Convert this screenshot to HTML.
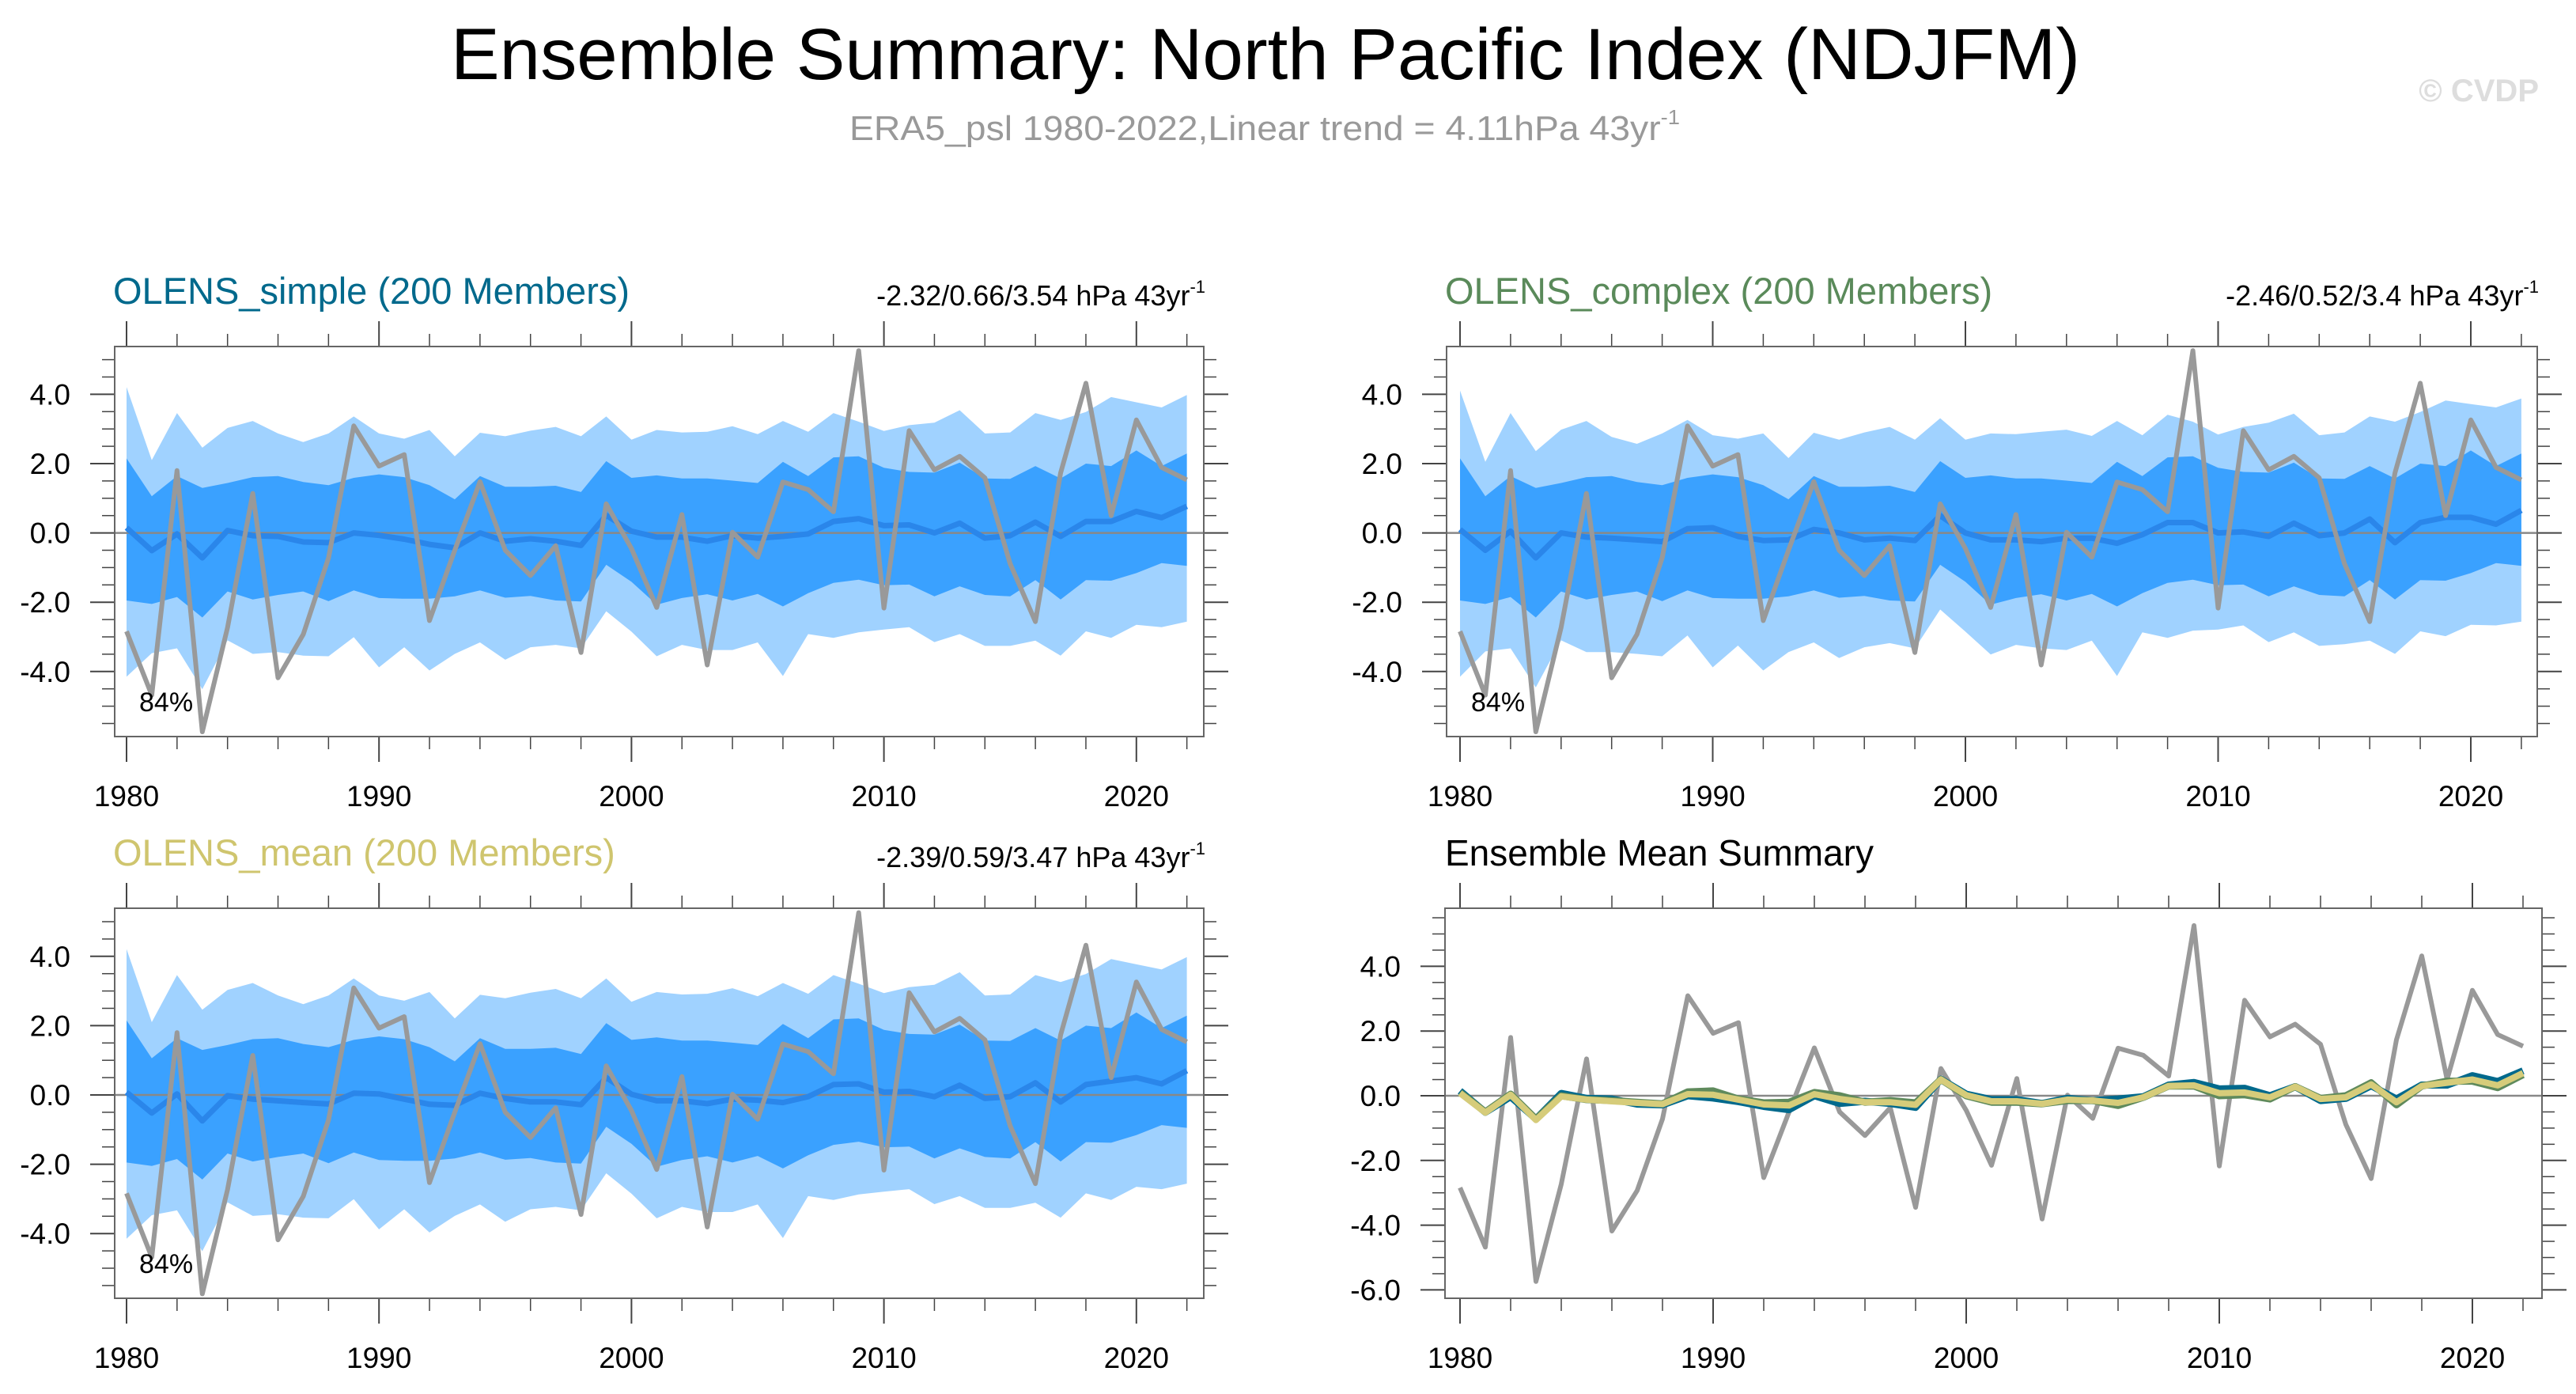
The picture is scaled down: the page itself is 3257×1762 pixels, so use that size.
<!DOCTYPE html>
<html><head><meta charset="utf-8"><style>
html,body{margin:0;padding:0;background:#fff;}
svg{display:block;font-family:"Liberation Sans",Arial,sans-serif;}
</style></head><body>
<svg id="chart" xmlns="http://www.w3.org/2000/svg" width="3257" height="1762" viewBox="0 0 3257 1762">
<rect x="0" y="0" width="3257" height="1762" fill="#fff"/>
<text x="1600" y="100" text-anchor="middle" font-size="92" textLength="2060" lengthAdjust="spacingAndGlyphs" fill="#000">Ensemble Summary: North Pacific Index (NDJFM)</text>
<text x="1074" y="177" font-size="44" fill="#999" textLength="1050" lengthAdjust="spacingAndGlyphs">ERA5_psl 1980-2022,Linear trend = 4.11hPa 43yr<tspan font-size="26" dy="-20">-1</tspan></text>
<text x="3210" y="128" text-anchor="end" font-size="40" font-weight="bold" fill="#ddd">© CVDP</text>
<g id="plots"></g>
</svg>
<script>
const years = [];
for (let y = 1980; y <= 2022; y++) years.push(y);
const obs = [-2.84,-4.68,1.80,-5.74,-2.73,1.14,-4.18,-2.93,-0.72,3.09,1.93,2.26,-2.53,-0.5,1.48,-0.5,-1.23,-0.37,-3.45,0.84,-0.45,-2.15,0.53,-3.81,0.02,-0.70,1.47,1.25,0.61,5.26,-2.17,2.95,1.82,2.21,1.59,-0.89,-2.56,1.73,4.32,0.50,3.26,1.89,1.53];
const simpleMean = [0.15,-0.51,-0.03,-0.72,0.07,-0.08,-0.10,-0.26,-0.28,0.0,-0.07,-0.18,-0.33,-0.43,0.0,-0.24,-0.17,-0.24,-0.36,0.51,0.05,-0.12,-0.12,-0.24,-0.08,-0.15,-0.10,-0.03,0.33,0.41,0.21,0.23,0.0,0.28,-0.15,-0.08,0.31,-0.10,0.33,0.33,0.62,0.44,0.77];
const simpleOuterHi = [4.21,2.10,3.46,2.46,3.03,3.23,2.87,2.62,2.87,3.36,2.87,2.72,2.97,2.21,2.89,2.79,2.95,3.06,2.79,3.36,2.69,2.97,2.90,2.92,3.08,2.85,3.23,2.92,3.46,3.21,2.94,3.11,3.18,3.54,2.87,2.90,3.46,3.26,3.49,3.92,3.77,3.62,3.98];
const simpleInnerHi = [2.15,1.06,1.64,1.30,1.44,1.61,1.64,1.47,1.38,1.59,1.69,1.61,1.38,0.97,1.64,1.33,1.33,1.36,1.18,2.07,1.59,1.66,1.57,1.57,1.51,1.44,2.05,1.64,2.18,2.21,1.88,1.76,1.74,2.03,1.57,1.56,1.93,1.57,2.00,1.93,2.38,1.93,2.29];
const simpleInnerLo = [-1.95,-2.05,-1.85,-2.44,-1.69,-1.92,-1.79,-1.69,-1.97,-1.66,-1.88,-1.90,-1.90,-1.83,-1.66,-1.87,-1.82,-1.95,-1.98,-0.92,-1.41,-2.07,-1.88,-1.77,-1.95,-1.76,-2.12,-1.74,-1.44,-1.35,-1.51,-1.49,-1.83,-1.54,-1.79,-1.83,-1.36,-1.92,-1.36,-1.38,-1.16,-0.87,-0.95];
const simpleOuterLo = [-4.15,-3.47,-3.33,-4.51,-3.10,-3.49,-3.44,-3.54,-3.56,-3.01,-3.88,-3.30,-3.97,-3.49,-3.16,-3.66,-3.30,-3.23,-3.33,-2.26,-2.85,-3.56,-3.23,-3.38,-3.38,-3.16,-4.13,-2.92,-3.03,-2.87,-2.79,-2.72,-3.15,-2.92,-3.26,-3.26,-3.11,-3.54,-2.84,-3.03,-2.65,-2.72,-2.56];
const complexMean = [0.10,-0.50,0.05,-0.72,0.0,-0.12,-0.15,-0.20,-0.25,0.12,0.15,-0.10,-0.22,-0.20,0.10,0.0,-0.20,-0.15,-0.22,0.50,0.0,-0.20,-0.20,-0.25,-0.15,-0.15,-0.30,-0.05,0.30,0.30,0.0,0.03,-0.10,0.28,-0.08,0.0,0.40,-0.28,0.30,0.45,0.45,0.25,0.65];
const complexOuterHi = simpleOuterHi.map((v,i)=>v-0.05+0.05*((i%3)-1));
const complexInnerHi = simpleInnerHi.slice();
const complexInnerLo = simpleInnerLo.slice();
const complexOuterLo = simpleOuterLo.map((v,i)=>v+0.05*((i%2)));
const meanMean = [0.08,-0.52,0.03,-0.75,-0.02,-0.12,-0.17,-0.22,-0.26,0.05,0.03,-0.12,-0.27,-0.30,0.05,-0.10,-0.20,-0.20,-0.28,0.50,0.02,-0.17,-0.17,-0.25,-0.12,-0.15,-0.22,-0.05,0.30,0.32,0.08,0.10,-0.05,0.28,-0.10,-0.05,0.35,-0.20,0.30,0.40,0.50,0.32,0.70];
const meanOuterHi = simpleOuterHi.slice();
const meanInnerHi = simpleInnerHi.slice();
const meanInnerLo = simpleInnerLo.slice();
const meanOuterLo = simpleOuterLo.slice();
const yTickValues = [-6,-4,-2,0,2,4];
const yTickLabels = ["-6.0","-4.0","-2.0","0.0","2.0","4.0"];
const xTickYears = [1980,1990,2000,2010,2020];

const NS = "http://www.w3.org/2000/svg";
const root = document.getElementById('plots');
function mk(tag, attrs, parent){
  const e = document.createElementNS(NS, tag);
  for (const k in attrs) e.setAttribute(k, attrs[k]);
  (parent||root).appendChild(e);
  return e;
}
function linePath(xs, vals, sx, sy){
  return vals.map((v,i)=>(i?'L':'M')+sx(xs[i]).toFixed(1)+','+sy(v).toFixed(1)).join('');
}
function bandPath(xs, hi, lo, sx, sy){
  let d = hi.map((v,i)=>(i?'L':'M')+sx(xs[i]).toFixed(1)+','+sy(v).toFixed(1)).join('');
  for (let i = lo.length-1; i >= 0; i--) d += 'L'+sx(xs[i]).toFixed(1)+','+sy(lo[i]).toFixed(1);
  return d+'Z';
}
function axes(g, P, sx, sy, vmin, vmax){
  for (let yr = 1980; yr <= 2022; yr += 2) {
    const major = (yr % 10 === 0);
    const len = major ? 32 : 16;
    const x = sx(yr);
    const t1 = mk('line',{x1:x,y1:P.top,x2:x,y2:P.top-len,stroke:'#444','stroke-width':major?2:1.5},g);
    
    
    const t2 = mk('line',{x1:x,y1:P.bottom,x2:x,y2:P.bottom+len,stroke:'#444','stroke-width':major?2:1.5},g);
    
    
  }
  xTickYears.forEach(yr=>{
    const t = mk('text',{x:sx(yr),y:P.bottom+88,'text-anchor':'middle','font-size':37,fill:'#000'},g);
    
    
    t.textContent = yr;
  });
  for (let v = Math.ceil(vmin*2)/2; v <= vmax; v += 0.5) {
    const y = sy(v);
    const major = Math.abs(v - Math.round(v/2)*2) < 1e-6;
    const len = major ? 31 : 16;
    const a = mk('line',{x1:P.left,y1:y,x2:P.left-len,y2:y,stroke:'#444','stroke-width':major?2:1.5},g);
    
    
    const b = mk('line',{x1:P.right,y1:y,x2:P.right+len,y2:y,stroke:'#444','stroke-width':major?2:1.5},g);
    
    
  }
  yTickValues.forEach((v,i)=>{
    if (v < vmin || v > vmax) return;
    const t = mk('text',{x:P.left-56,y:sy(v)+13,'text-anchor':'end','font-size':37,fill:'#000'},g);
    
    
    t.textContent = yTickLabels[i];
  });
  const z = mk('line',{x1:P.left,y1:sy(0),x2:P.right,y2:sy(0),stroke:'#888','stroke-width':2.5},g);
  
  
  const f = mk('rect',{x:P.left,y:P.top,width:P.right-P.left,height:P.bottom-P.top,fill:'none',stroke:'#666','stroke-width':2},g);
  
  
}
function bandPanel(name, P, title, titleColor, stats, oHi, iHi, iLo, oLo, mean){
  const g = mk('g',{});
  
  
  const sx = yr => P.x0 + (yr-1980)*P.dx;
  const sy = v => P.y0 - v*P.dy;
  const vmin = (P.y0-P.bottom)/P.dy, vmax = (P.y0-P.top)/P.dy;
  const ob = mk('path',{d:bandPath(years,oHi,oLo,sx,sy),fill:'#a0d2ff'},g);
  
  
  const ib = mk('path',{d:bandPath(years,iHi,iLo,sx,sy),fill:'#3aa1ff'},g);
  
  
  axes(g,P,sx,sy,vmin,vmax);
  const ml = mk('path',{d:linePath(years,mean,sx,sy),fill:'none',stroke:'#2a86ea','stroke-width':7,'stroke-linejoin':'round'},g);
  
  
  const ol = mk('path',{d:linePath(years,obs,sx,sy),fill:'none',stroke:'#999','stroke-width':6,'stroke-linejoin':'round'},g);
  
  
  const pc = mk('text',{x:P.left+31,y:P.bottom-32,'font-size':34,fill:'#000'},g);
  
  
  pc.textContent = '84%';
  const tt = mk('text',{x:P.left-2,y:P.top-54,'font-size':47,fill:titleColor},g);
  
  
  tt.textContent = title;
  const st = mk('text',{x:P.right+2,y:P.top-52,'font-size':36,fill:'#000','text-anchor':'end'},g);
  
  
  st.textContent = stats;
  const sup = mk('tspan',{'font-size':22,dy:-16},st);
  sup.textContent = '-1';
}
bandPanel('panel-olens-simple',{left:145,right:1522,top:438,bottom:931,x0:160,dx:31.92,y0:673.6,dy:43.8},'OLENS_simple (200 Members)','#00698c','-2.32/0.66/3.54 hPa 43yr',simpleOuterHi,simpleInnerHi,simpleInnerLo,simpleOuterLo,simpleMean);
bandPanel('panel-olens-complex',{left:1829,right:3208,top:438,bottom:931,x0:1846,dx:31.95,y0:673.6,dy:43.8},'OLENS_complex (200 Members)','#5a8a5a','-2.46/0.52/3.4 hPa 43yr',complexOuterHi,complexInnerHi,complexInnerLo,complexOuterLo,complexMean);
bandPanel('panel-olens-mean',{left:145,right:1522,top:1148,bottom:1641,x0:160,dx:31.92,y0:1384,dy:43.8},'OLENS_mean (200 Members)','#cfc56e','-2.39/0.59/3.47 hPa 43yr',meanOuterHi,meanInnerHi,meanInnerLo,meanOuterLo,meanMean);

(function(){
  const P = {left:1827,right:3214,top:1148,bottom:1641,x0:1846,dx:32.0,y0:1385,dy:40.9};
  const g = mk('g',{});
  
  
  const sx = yr => P.x0 + (yr-1980)*P.dx;
  const sy = v => P.y0 - v*P.dy;
  axes(g,P,sx,sy,(P.y0-P.bottom)/P.dy,(P.y0-P.top)/P.dy);
  const ol = mk('path',{d:linePath(years,obs,sx,sy),fill:'none',stroke:'#999','stroke-width':6,'stroke-linejoin':'round'},g);
  
  
  const l1 = mk('path',{d:linePath(years,simpleMean,sx,sy),fill:'none',stroke:'#00698c','stroke-width':9,'stroke-linejoin':'round'},g);
  
  
  const l2 = mk('path',{d:linePath(years,complexMean,sx,sy),fill:'none',stroke:'#5f8a5c','stroke-width':9,'stroke-linejoin':'round'},g);
  
  
  const l3 = mk('path',{d:linePath(years,meanMean,sx,sy),fill:'none',stroke:'#d6cc7a','stroke-width':8,'stroke-linejoin':'round'},g);
  
  
  const tt = mk('text',{x:P.left,y:1094,'font-size':46,fill:'#000'},g);
  
  
  tt.textContent = 'Ensemble Mean Summary';
})();
</script>
</body></html>
